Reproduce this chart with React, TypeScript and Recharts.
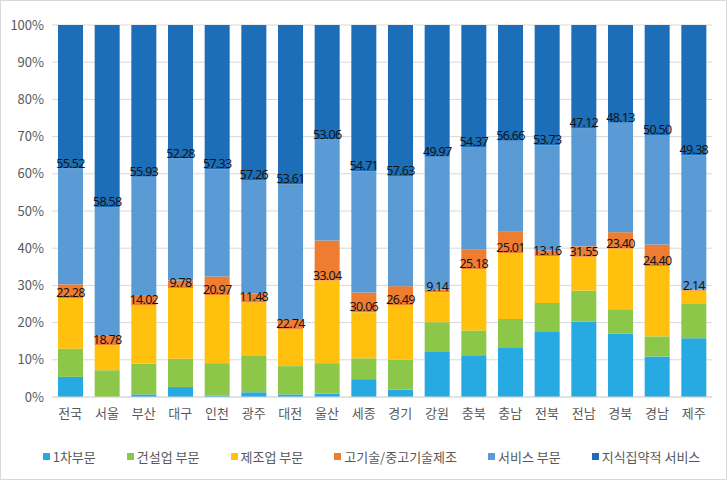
import { Bar, BarChart, CartesianGrid, LabelList, Legend, XAxis, YAxis } from 'recharts';

const regions = ['전국', '서울', '부산', '대구', '인천', '광주', '대전', '울산', '세종', '경기', '강원', '충북', '충남', '전북', '전남', '경북', '경남', '제주'];

// segment shares (%)
const primary = [5.4, 0, 0.7, 2.7, 0.4, 1.3, 0.7, 0.9, 4.8, 2.0, 12.1, 11.2, 13.4, 17.7, 20.3, 17.0, 10.9, 15.8];
const construction = [7.6, 7.2, 8.3, 7.6, 8.7, 9.9, 7.6, 8.2, 5.6, 8.0, 8.0, 6.7, 7.6, 7.6, 8.3, 6.6, 5.4, 9.2];
const manufacturing = [13.6, 6.7, 15.7, 19.0, 18.2, 14.3, 10.0, 22.2, 12.4, 14.6, 8.1, 16.4, 17.7, 12.6, 9.1, 16.3, 18.9, 3.6];
const highTech = [3.7, 2.7, 2.7, 2.0, 5.1, 2.3, 2.7, 10.8, 5.3, 5.2, 0.7, 5.3, 5.9, 1.5, 2.8, 4.4, 5.8, 0.3];
const service = [31.1, 34.5, 31.8, 32.8, 28.8, 30.5, 36.2, 27.1, 32.6, 29.6, 35.7, 27.5, 24.3, 28.3, 31.7, 29.4, 29.4, 36.1];
const knowledge = [38.6, 48.9, 40.8, 35.9, 38.8, 41.7, 42.8, 30.8, 39.3, 40.6, 35.4, 32.9, 31.1, 32.3, 27.8, 26.3, 29.6, 35.0];

// numbers printed on the bars
const mfgLabels = ['22.28', '18.78', '14.02', '9.78', '20.97', '11.48', '22.74', '33.04', '30.06', '26.49', '9.14', '25.18', '25.01', '13.16', '31.55', '23.40', '24.40', '2.14'];
const serviceLabels = ['55.52', '58.58', '55.93', '52.28', '57.33', '57.26', '53.61', '53.06', '54.71', '57.63', '49.97', '54.37', '56.66', '53.73', '47.12', '48.13', '50.50', '49.38'];

const yTicks = [0, 0.1, 0.2, 0.3, 0.4, 0.5, 0.6, 0.7, 0.8, 0.9, 1];

const series = [
    { key: 'primary', name: '1차부문', color: '#27A9E1' },
    { key: 'construction', name: '건설업 부문', color: '#8DC74A' },
    { key: 'manufacturing', name: '제조업 부문', color: '#FFC10E' },
    { key: 'highTech', name: '고기술/중고기술제조', color: '#EE7D31' },
    { key: 'service', name: '서비스 부문', color: '#5B9BD5' },
    { key: 'knowledge', name: '지식집약적 서비스', color: '#1B6EB7' },
];

const data = regions.map((region, i) => ({
    region,
    primary: primary[i],
    construction: construction[i],
    manufacturing: manufacturing[i],
    highTech: highTech[i],
    service: service[i],
    knowledge: knowledge[i],
    mfgLabel: mfgLabels[i],
    serviceLabel: serviceLabels[i],
}));

const font = '"Noto Sans CJK KR", "Noto Sans", sans-serif';

const TopLabel = (props: any) => {
    const { x, y, width, value } = props;
    return (
        <text
            x={x + width / 2}
            y={y - 1}
            textAnchor="middle"
            fill="#141414"
            fontSize={12.5}
            letterSpacing={-0.7}
            fontFamily='"Liberation Sans Narrow", "Noto Sans", sans-serif'
        >
            {value}
        </text>
    );
};

const LegendBox = () => (
    <div style={{ display: 'flex', justifyContent: 'center', gap: 31, paddingTop: 20, paddingLeft: 30, fontFamily: font, fontSize: 13, color: '#595959' }}>
        {series.map((s) => (
            <div key={s.key} style={{ display: 'flex', alignItems: 'center' }}>
                <span style={{ width: 7, height: 7, background: s.color, marginRight: 3, display: 'inline-block' }} />
                <span>{s.name}</span>
            </div>
        ))}
    </div>
);

export default function App() {
    return (
        <div style={{ position: 'fixed', left: 0, top: 0, width: 727, height: 480, background: '#fff', border: '1px solid #d9d9d9', boxSizing: 'border-box' }}>
            <BarChart
                width={725}
                height={478}
                data={data}
                stackOffset="expand"
                barSize={25}
                margin={{ top: 24, right: 14, left: 0, bottom: 0 }}
            >
                <CartesianGrid vertical={false} stroke="#d9d9d9" />
                <XAxis
                    dataKey="region"
                    axisLine={{ stroke: '#d9d9d9' }}
                    tickLine={false}
                    tick={{ fill: '#595959', fontSize: 13, fontFamily: font }}
                    tickMargin={6}
                    interval={0}
                />
                <YAxis
                    ticks={yTicks}
                    domain={[0, 1]}
                    width={51}
                    axisLine={false}
                    tickLine={false}
                    tickFormatter={(v: number) => `${Math.round(v * 100)}%`}
                    tick={{ fill: '#595959', fontSize: 13, fontFamily: font }}
                />
                <Legend verticalAlign="bottom" content={<LegendBox />} wrapperStyle={{ height: 52 }} />
                {series.map((s) => (
                    <Bar key={s.key} dataKey={s.key} name={s.name} stackId="a" fill={s.color} isAnimationActive={false}>
                        {s.key === 'manufacturing' && <LabelList dataKey="mfgLabel" content={TopLabel} />}
                        {s.key === 'service' && <LabelList dataKey="serviceLabel" content={TopLabel} />}
                    </Bar>
                ))}
            </BarChart>
        </div>
    );
}
